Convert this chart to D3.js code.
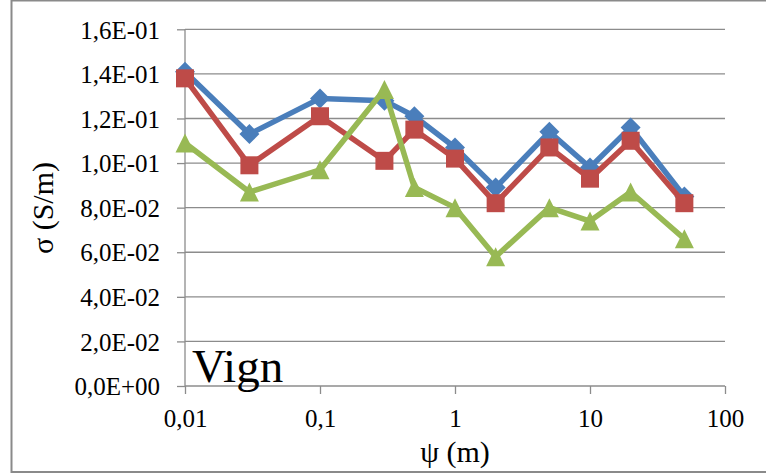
<!DOCTYPE html>
<html>
<head>
<meta charset="utf-8">
<script src="https://cdn.jsdelivr.net/npm/d3@7"></script>
<style>
  html, body { margin: 0; padding: 0; background: #fff; }
  svg { display: block; }
  text { font-family: "Liberation Serif", "Times New Roman", serif; fill: #000; }
</style>
</head>
<body>
<script>
// Conductivity σ against distance ψ, three measurement series
const psi = [0.01, 0.03, 0.1, 0.3, 0.5, 1, 2, 5, 10, 20, 50];
const sigmaBlue  = [0.141, 0.113, 0.129, 0.128, 0.121, 0.107, 0.089, 0.114, 0.098, 0.116, 0.085];
const sigmaRed   = [0.138, 0.099, 0.121, 0.101, 0.115, 0.102, 0.082, 0.107, 0.093, 0.110, 0.082];
const sigmaGreen = [0.109, 0.087, 0.097, 0.133, 0.089, 0.080, 0.058, 0.080, 0.074, 0.087, 0.066];

const xTickValues = [0.01, 0.1, 1, 10, 100];
const xTickLabels = ["0,01", "0,1", "1", "10", "100"];
const yTickValues = [0, 0.02, 0.04, 0.06, 0.08, 0.10, 0.12, 0.14, 0.16];
const yTickLabels = ["0,0E+00", "2,0E-02", "4,0E-02", "6,0E-02", "8,0E-02",
                     "1,0E-01", "1,2E-01", "1,4E-01", "1,6E-01"];

const W = 766, H = 474;
const serif = '"Liberation Serif", "Times New Roman", serif';
const svg = d3.select("body").append("svg").attr("width", W).attr("height", H);

// chart frame
svg.append("rect")
  .attr("x", 11.5).attr("y", 0.5).attr("width", 800).attr("height", 471.5)
  .attr("fill", "#fff").attr("stroke", "#8a8a8a").attr("stroke-width", 2);

const x = d3.scaleLog().domain([0.01, 100]).range([185, 725]);
const y = d3.scaleLinear().domain([0, 0.16]).range([386, 29.3]);

const gridColor = "#8c8c8c";

// horizontal gridlines
svg.append("g").selectAll("line").data(yTickValues.slice(1)).join("line")
  .attr("x1", x(0.01)).attr("x2", x(100))
  .attr("y1", d => y(d)).attr("y2", d => y(d))
  .attr("stroke", gridColor).attr("stroke-width", 1.3);

// y axis
const yAxis = svg.append("g").attr("transform", `translate(${x(0.01)},0)`)
  .call(d3.axisLeft(y).tickValues(yTickValues)
    .tickFormat((d, i) => yTickLabels[i]).tickSize(8).tickPadding(17));
yAxis.attr("font-family", null).attr("font-size", null);
yAxis.select(".domain").attr("stroke", gridColor).attr("stroke-width", 1.3)
  .attr("d", `M0,${y(0.16)}V${y(0)}`);
yAxis.selectAll(".tick line").attr("stroke", gridColor).attr("stroke-width", 1.3);
yAxis.selectAll(".tick text")
  .style("font-family", serif).style("font-size", "25px")
  .attr("fill", "#000").attr("dy", "0.35em");

// x axis
const xAxis = svg.append("g").attr("transform", `translate(0,${y(0)})`)
  .call(d3.axisBottom(x).tickValues(xTickValues)
    .tickFormat((d, i) => xTickLabels[i]).tickSize(8).tickPadding(15));
xAxis.attr("font-family", null).attr("font-size", null);
xAxis.select(".domain").attr("stroke", gridColor).attr("stroke-width", 1.3)
  .attr("d", `M${x(0.01)},0H${x(100)}`);
xAxis.selectAll(".tick line").attr("stroke", gridColor).attr("stroke-width", 1.3);
xAxis.selectAll(".tick text")
  .style("font-family", serif).style("font-size", "25px").attr("fill", "#000");

// axis titles
svg.append("text").attr("x", 455).attr("y", 462).attr("text-anchor", "middle")
  .style("font-family", serif).style("font-size", "30px").text("ψ (m)");
svg.append("text").attr("transform", "translate(53,208) rotate(-90)")
  .attr("text-anchor", "middle")
  .style("font-family", serif).style("font-size", "30px").text("σ (S/m)");

// marker shapes centred on their bounding boxes
const diamond = { draw(ctx, size) { const r = Math.sqrt(size / 2);
  ctx.moveTo(0, -r); ctx.lineTo(r, 0); ctx.lineTo(0, r); ctx.lineTo(-r, 0); ctx.closePath(); } };
const square = { draw(ctx, size) { const r = Math.sqrt(size) / 2;
  ctx.rect(-r, -r, 2 * r, 2 * r); } };
const triangle = { draw(ctx, size) { const r = Math.sqrt(size) / 2;
  ctx.moveTo(0, -r); ctx.lineTo(r, r); ctx.lineTo(-r, r); ctx.closePath(); } };

const series = [
  { values: sigmaBlue,  color: "#4A7EBB", symbol: diamond,  size: 200 },
  { values: sigmaRed,   color: "#BE4B48", symbol: square,   size: 324 },
  { values: sigmaGreen, color: "#98B954", symbol: triangle, size: 361 }
];

const line = d3.line().x(d => x(d[0])).y(d => y(d[1]));

series.forEach(s => {
  const pts = psi.map((p, i) => [p, s.values[i]]);
  const g = svg.append("g");
  g.append("path").datum(pts).attr("d", line)
    .attr("fill", "none").attr("stroke", s.color).attr("stroke-width", 5.5)
    .attr("stroke-linejoin", "round");
  g.selectAll("path.m").data(pts).join("path").attr("class", "m")
    .attr("transform", d => `translate(${x(d[0])},${y(d[1])})`)
    .attr("d", d3.symbol().type(s.symbol).size(s.size))
    .attr("fill", s.color);
});

// panel label
svg.append("text").attr("x", 192).attr("y", 382)
  .style("font-family", serif).style("font-size", "47px").text("Vign");
</script>
</body>
</html>
